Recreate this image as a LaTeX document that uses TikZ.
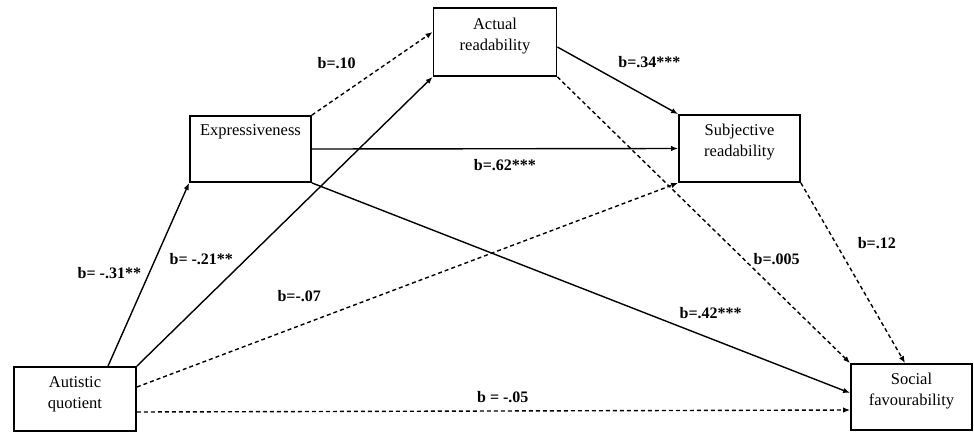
\documentclass[tikz,border=0pt]{standalone}
\usepackage{fontspec}
\setmainfont{Liberation Serif}
\usetikzlibrary{arrows.meta}

\begin{document}
\begin{tikzpicture}[x=1pt, y=-1pt, line width=1.4pt,
    box/.style={draw, line width=1.8pt, minimum width=121pt, minimum height=66pt, inner sep=0pt},
    txt/.style={align=center, font=\fontsize{16.5}{21}\selectfont},
    coef/.style={font=\bfseries\fontsize{16}{19}\selectfont, inner sep=0pt},
    nonsig/.style={dash pattern=on 4pt off 3pt},
    >={Latex[length=7pt,width=5.5pt]}]

    \useasboundingbox (0,0) rectangle (974,432);

    \node[box, minimum width=122pt, minimum height=64pt] (aq) at (75,399) {};
    \node[box] (ex) at (250.5,149) {};
    \node[box, minimum width=123pt, minimum height=68pt] (ar) at (495,42) {};
    \node[box, minimum height=67pt] (sr) at (739.5,148.5) {};
    \node[box] (sf) at (911.5,397) {};

    \node[txt] (aq-t) at ([yshift=5pt]aq.center) {Autistic\\quotient};
    \node[txt] (ex-t) at ([yshift=17pt]ex.center) {Expressiveness};
    \node[txt] (ar-t) at ([yshift=6pt]ar.center) {Actual\\readability};
    \node[txt] (sr-t) at ([yshift=6pt]sr.center) {Subjective\\readability};
    \node[txt] (sf-t) at ([yshift=6pt]sf.center) {Social\\favourability};

    \path[->]
        ([xshift=33pt]aq.north) edge node[coef, pos=.51, xshift=-40pt] {b= -.31**} (ex.south west)
        (aq.north east) edge node[coef, pos=.37, xshift=-45pt] {b= -.21**} (ar.south west)
        ([yshift=12pt]aq.east) edge[nonsig] node[coef, pos=.30, yshift=30pt] {b=-.07} (sr.south west)
        ([yshift=-13pt]aq.east) edge[nonsig] node[coef, pos=.513, yshift=14pt] {b = -.05} ([yshift=-13pt]sf.west)

        (ex.north east) edge[nonsig] node[coef, pos=.205, yshift=35pt] {b=.10} ([yshift=10pt]ar.west)
        (ex.east) edge node[coef, pos=.527, yshift=-16pt] {b=.62***} (sr.west)
        (ex.south east) edge node[coef, pos=.741, yshift=26pt] {b=.42***} ([yshift=4pt]sf.west)

        ([yshift=-5pt]ar.east) edge node[coef, pos=.762, yshift=36pt] {b=.34***} (sr.north west)
        (ar.south east) edge[nonsig] node[coef, pos=.749, yshift=32pt] {b=.005} (sf.north west)

        (sr.south east) edge[nonsig] node[coef, pos=.335, xshift=41pt] {b=.12} ([xshift=-6.5pt]sf.north);
\end{tikzpicture}
\end{document}
